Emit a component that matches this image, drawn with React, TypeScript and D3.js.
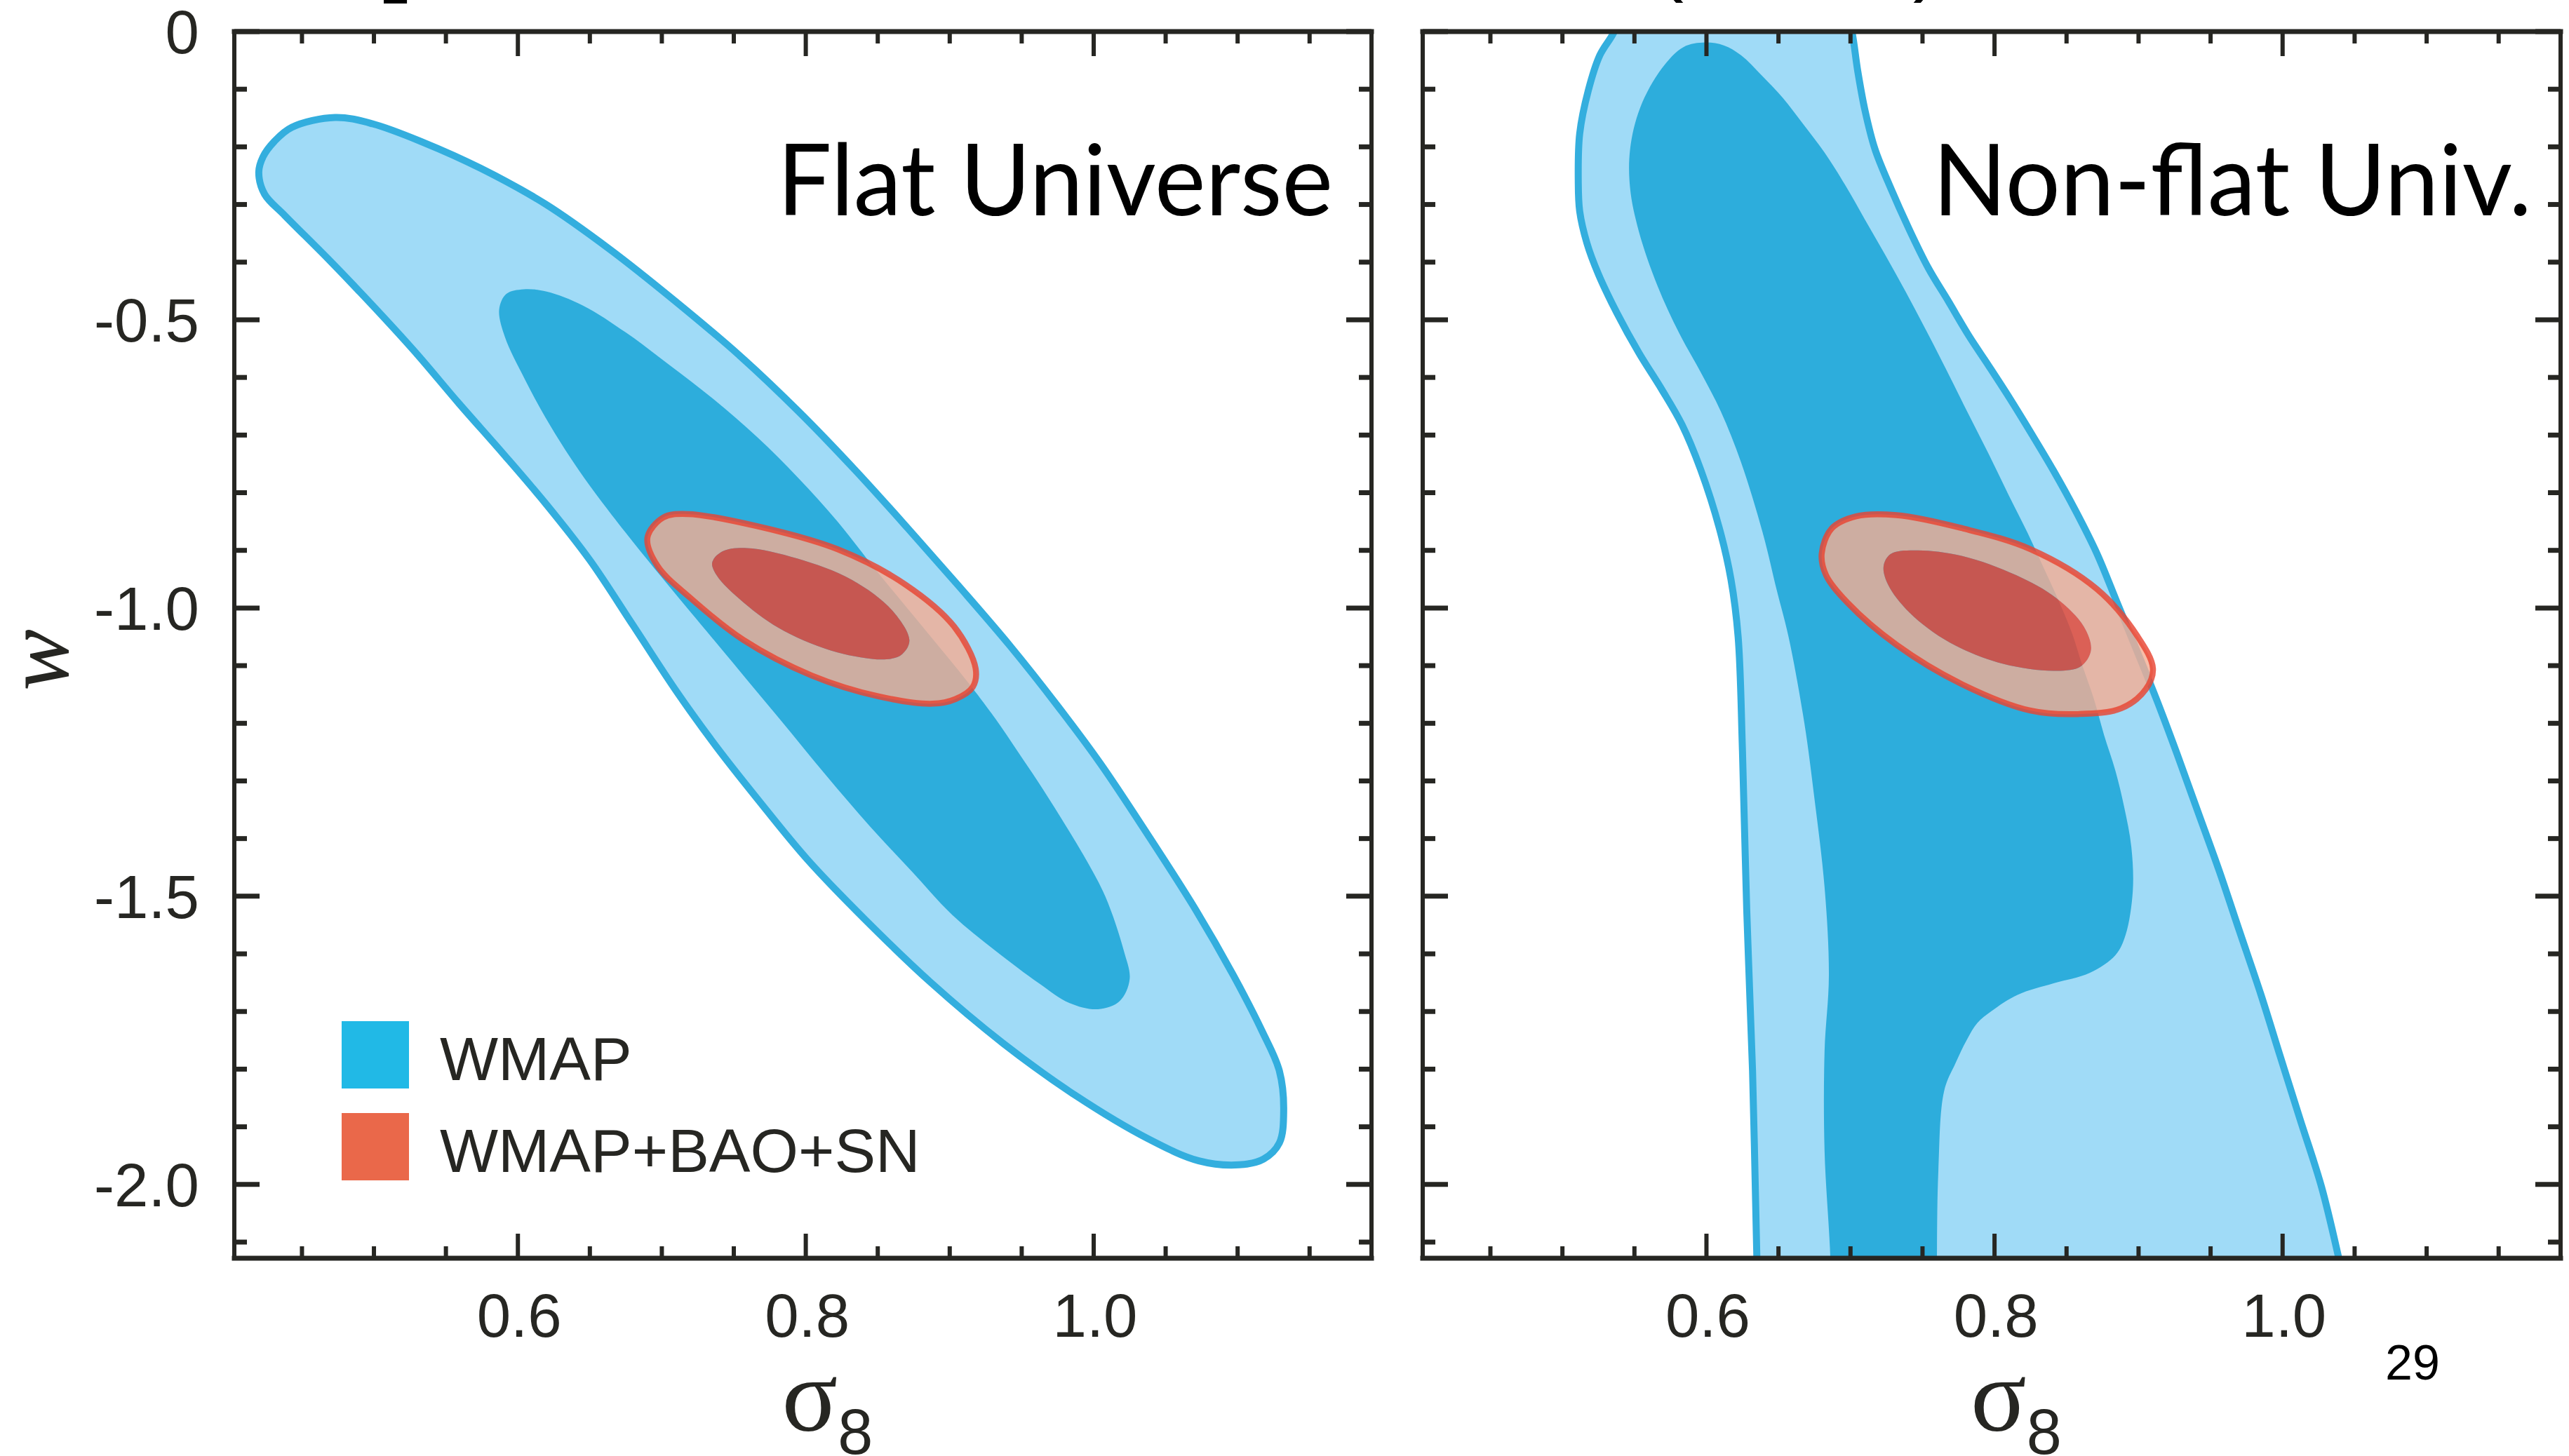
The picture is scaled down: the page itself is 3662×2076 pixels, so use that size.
import React from "react";
import * as d3 from "d3";

type Pt = [number, number];

// ---------- axes ----------
const xDomain = [0.403, 1.193];
const yDomain = [-2.128, 0];
const xMajorTicks = [0.6, 0.8, 1.0];
const xTickLabels = ["0.6", "0.8", "1.0"];
const xMinorTicks = [0.45, 0.5, 0.55, 0.65, 0.7, 0.75, 0.85, 0.9, 0.95, 1.05, 1.1, 1.15];
const yMajorTicks = [0, -0.5, -1.0, -1.5, -2.0];
const yTickLabels = ["0", "-0.5", "-1.0", "-1.5", "-2.0"];
const yMinorTicks = [-0.1, -0.2, -0.3, -0.4, -0.6, -0.7, -0.8, -0.9, -1.1, -1.2, -1.3, -1.4, -1.6, -1.7, -1.8, -1.9, -2.1];

const panelTitles = ["Flat Universe", "Non-flat Univ."];
const legendLabels = ["WMAP", "WMAP+BAO+SN"];
const legendColors = ["#21B9E6", "#EA684A"];
const pageNumber = "29";

// ---------- contours (sigma8, w) ----------
const flatWmap95: Pt[] = [
  [0.473, -0.149], [0.499, -0.160], [0.534, -0.192], [0.574, -0.237], [0.619, -0.299], [0.664, -0.378],
  [0.709, -0.467], [0.754, -0.562], [0.795, -0.659], [0.834, -0.760], [0.871, -0.862], [0.907, -0.964],
  [0.942, -1.066], [0.975, -1.170], [1.005, -1.271], [1.037, -1.391], [1.071, -1.524], [1.097, -1.637],
  [1.117, -1.734], [1.129, -1.803], [1.132, -1.872], [1.129, -1.928], [1.118, -1.956], [1.101, -1.966],
  [1.073, -1.959], [1.038, -1.921], [0.987, -1.845], [0.937, -1.755], [0.887, -1.650], [0.841, -1.540],
  [0.801, -1.436], [0.767, -1.333], [0.738, -1.241], [0.710, -1.144], [0.680, -1.030], [0.650, -0.917],
  [0.620, -0.821], [0.590, -0.733], [0.559, -0.645], [0.529, -0.557], [0.499, -0.475], [0.468, -0.394],
  [0.438, -0.319], [0.424, -0.282], [0.420, -0.244], [0.423, -0.217], [0.431, -0.190], [0.443, -0.166],
];
const flatWmap68: Pt[] = [
  [0.604, -0.447], [0.620, -0.451], [0.645, -0.475], [0.675, -0.522], [0.705, -0.578], [0.736, -0.638],
  [0.766, -0.703], [0.795, -0.775], [0.822, -0.850], [0.848, -0.932], [0.881, -1.032], [0.913, -1.130],
  [0.932, -1.193], [0.947, -1.248], [0.961, -1.300], [0.977, -1.363], [0.993, -1.429], [1.008, -1.500],
  [1.021, -1.595], [1.025, -1.644], [1.018, -1.682], [1.003, -1.696], [0.983, -1.685], [0.962, -1.651],
  [0.932, -1.595], [0.902, -1.533], [0.874, -1.458], [0.845, -1.380], [0.814, -1.290], [0.782, -1.193],
  [0.754, -1.109], [0.731, -1.040], [0.701, -0.950], [0.677, -0.876], [0.662, -0.828], [0.646, -0.774],
  [0.633, -0.726], [0.619, -0.669], [0.605, -0.604], [0.591, -0.530], [0.587, -0.482], [0.592, -0.455],
];
const flatJoint95: Pt[] = [
  [0.690, -0.878], [0.701, -0.843], [0.718, -0.837], [0.766, -0.858], [0.822, -0.898], [0.869, -0.959],
  [0.903, -1.032], [0.918, -1.105], [0.916, -1.137], [0.904, -1.158], [0.888, -1.166], [0.850, -1.153],
  [0.804, -1.117], [0.757, -1.056], [0.720, -0.983], [0.697, -0.927],
];
const flatJoint68: Pt[] = [
  [0.735, -0.921], [0.742, -0.902], [0.759, -0.896], [0.794, -0.914], [0.832, -0.951], [0.860, -1.004],
  [0.872, -1.056], [0.867, -1.080], [0.856, -1.089], [0.822, -1.077], [0.785, -1.040], [0.757, -0.991],
  [0.738, -0.943],
];
const nonflatWmap95: Pt[] = [
  [0.545, 0.06], [0.620, 0.10], [0.695, 0.06], [0.701, 0.0], [0.705, -0.068], [0.710, -0.136],
  [0.717, -0.204], [0.728, -0.272], [0.740, -0.339], [0.754, -0.410], [0.768, -0.468], [0.782, -0.527],
  [0.796, -0.580], [0.811, -0.638], [0.826, -0.699], [0.841, -0.762], [0.856, -0.830], [0.871, -0.905],
  [0.885, -0.990], [0.899, -1.075], [0.913, -1.162], [0.927, -1.255], [0.941, -1.352], [0.956, -1.456],
  [0.970, -1.560], [0.985, -1.671], [0.998, -1.775], [1.012, -1.886], [1.027, -2.004], [1.039, -2.128],
  [1.045, -2.20], [0.850, -2.25], [0.636, -2.20], [0.635, -2.128], [0.632, -1.803], [0.628, -1.526],
  [0.625, -1.248], [0.622, -1.050], [0.617, -0.950], [0.609, -0.862], [0.596, -0.760], [0.583, -0.682],
  [0.569, -0.621], [0.553, -0.557], [0.538, -0.489], [0.525, -0.421], [0.517, -0.367], [0.512, -0.312],
  [0.511, -0.258], [0.512, -0.177], [0.518, -0.102], [0.526, -0.041], [0.536, 0.0],
];
const nonflatWmap68: Pt[] = [
  [0.599, -0.019], [0.612, -0.024], [0.624, -0.041], [0.638, -0.075], [0.653, -0.115], [0.667, -0.160],
  [0.682, -0.210], [0.696, -0.265], [0.710, -0.326], [0.724, -0.387], [0.738, -0.450], [0.752, -0.516],
  [0.766, -0.584], [0.781, -0.659], [0.796, -0.733], [0.810, -0.805], [0.823, -0.870], [0.835, -0.935],
  [0.845, -0.990], [0.854, -1.045], [0.861, -1.100], [0.869, -1.158], [0.876, -1.220], [0.884, -1.283],
  [0.890, -1.345], [0.895, -1.415], [0.896, -1.491], [0.891, -1.567], [0.884, -1.602], [0.866, -1.633],
  [0.841, -1.651], [0.816, -1.671], [0.798, -1.699], [0.788, -1.720], [0.781, -1.748], [0.773, -1.789],
  [0.765, -1.838], [0.761, -1.977], [0.760, -2.128], [0.760, -2.22], [0.686, -2.22], [0.686, -2.128],
  [0.682, -1.942], [0.682, -1.769], [0.685, -1.637], [0.682, -1.484], [0.675, -1.331], [0.668, -1.200],
  [0.657, -1.050], [0.649, -0.971], [0.639, -0.869], [0.624, -0.747], [0.610, -0.659], [0.596, -0.591],
  [0.581, -0.523], [0.566, -0.441], [0.553, -0.346], [0.547, -0.272], [0.547, -0.204], [0.554, -0.132],
  [0.569, -0.064], [0.584, -0.027],
];
const nonflatJoint95: Pt[] = [
  [0.680, -0.906], [0.687, -0.862], [0.704, -0.841], [0.732, -0.839], [0.778, -0.862], [0.825, -0.898],
  [0.871, -0.967], [0.899, -1.048], [0.910, -1.105], [0.905, -1.141], [0.888, -1.174], [0.858, -1.184],
  [0.825, -1.178], [0.778, -1.133], [0.732, -1.064], [0.698, -0.991], [0.683, -0.943],
];
const nonflatJoint68: Pt[] = [
  [0.723, -0.927], [0.728, -0.906], [0.747, -0.900], [0.778, -0.910], [0.815, -0.943], [0.843, -0.983],
  [0.862, -1.032], [0.867, -1.073], [0.860, -1.101], [0.843, -1.109], [0.806, -1.097], [0.769, -1.060],
  [0.741, -1.008], [0.726, -0.959],
];

// ---------- layout ----------
const W = 3662;
const H = 2076;
const TOP = 45;
const BOTTOM = 1794;
const INK = "#262622";
const SANS = "'Liberation Sans', Arial, Helvetica, sans-serif";
const SERIF = "'Liberation Serif', 'Times New Roman', serif";

const panels = [
  { id: "flat", x0: 334, x1: 1955, title: panelTitles[0], titleX: 1108, titleLen: 792,
    wmap95: flatWmap95, wmap68: flatWmap68, joint95: flatJoint95, joint68: flatJoint68 },
  { id: "nonflat", x0: 2028, x1: 3650, title: panelTitles[1], titleX: 2755, titleLen: 854,
    wmap95: nonflatWmap95, wmap68: nonflatWmap68, joint95: nonflatJoint95, joint68: nonflatJoint68 },
];

const yScale = d3.scaleLinear().domain(yDomain).range([BOTTOM, TOP]);

function Panel({ p, index }: { p: (typeof panels)[number]; index: number }) {
  const xScale = d3.scaleLinear().domain(xDomain).range([p.x0, p.x1]);
  const line = d3
    .line<Pt>()
    .x((d) => xScale(d[0]))
    .y((d) => yScale(d[1]))
    .curve(d3.curveCatmullRomClosed.alpha(0.5));
  const clipId = `clip-${p.id}`;
  const outerBlue = line(p.wmap95) || "";
  const innerBlue = line(p.wmap68) || "";
  const outerRed = line(p.joint95) || "";
  const innerRed = line(p.joint68) || "";
  const minorLen = 17;
  const majorLen = 35;

  return (
    <g>
      <defs>
        <clipPath id={clipId}>
          <rect x={p.x0} y={TOP} width={p.x1 - p.x0} height={BOTTOM - TOP} />
        </clipPath>
      </defs>
      <g clipPath={`url(#${clipId})`}>
        <path d={outerBlue} fill="#A0DBF7" />
        <path d={innerBlue} fill="#2DADDC" />
        <path d={outerBlue} fill="none" stroke="#33AEDE" strokeWidth={10} strokeLinejoin="round" />
        <path d={outerRed + innerRed} fill="#F5AC92" fillOpacity={0.8} fillRule="evenodd" />
        <path d={innerRed} fill="#E84432" fillOpacity={0.82} />
        <path d={outerRed} fill="none" stroke="#E84432" strokeOpacity={0.82} strokeWidth={8.5} />
      </g>

      {/* ticks */}
      {[...xMinorTicks.map((t) => [t, minorLen]), ...xMajorTicks.map((t) => [t, majorLen])].map(([t, len], i) => (
        <g key={`xt${i}`} stroke={INK} strokeWidth={6}>
          <line x1={xScale(t)} x2={xScale(t)} y1={TOP} y2={TOP + len} />
          <line x1={xScale(t)} x2={xScale(t)} y1={BOTTOM} y2={BOTTOM - len} />
        </g>
      ))}
      {[...yMinorTicks.map((t) => [t, minorLen + 1]), ...yMajorTicks.map((t) => [t, majorLen + 1])].map(([t, len], i) => (
        <g key={`yt${i}`} stroke={INK} strokeWidth={7}>
          <line x1={p.x0} x2={p.x0 + len} y1={yScale(t)} y2={yScale(t)} />
          <line x1={p.x1} x2={p.x1 - len} y1={yScale(t)} y2={yScale(t)} />
        </g>
      ))}

      {/* frame */}
      <g stroke={INK} strokeLinecap="square">
        <line x1={p.x0} x2={p.x1} y1={TOP} y2={TOP} strokeWidth={7} />
        <line x1={p.x0} x2={p.x1} y1={BOTTOM} y2={BOTTOM} strokeWidth={7} />
        <line x1={p.x0} x2={p.x0} y1={TOP} y2={BOTTOM} strokeWidth={6} />
        <line x1={p.x1} x2={p.x1} y1={TOP} y2={BOTTOM} strokeWidth={6} />
      </g>

      {/* x tick labels */}
      {xMajorTicks.map((t, i) => (
        <text key={`xl${i}`} x={xScale(t) + 2} y={1906} fontFamily={SANS} fontSize={87} fill={INK} textAnchor="middle">
          {xTickLabels[i]}
        </text>
      ))}

      {/* y tick labels, left panel only */}
      {index === 0 &&
        yMajorTicks.map((t, i) => (
          <text key={`yl${i}`} x={284} y={yScale(t) + 31} fontFamily={SANS} fontSize={87} fill={INK} textAnchor="end">
            {yTickLabels[i]}
          </text>
        ))}

      {/* x axis title */}
      <text x={xScale(0.815)} y={2040} textAnchor="middle" fill={INK}>
        <tspan fontFamily={SERIF} fontSize={148}>σ</tspan>
        <tspan fontFamily={SANS} fontSize={90} dy={33}>8</tspan>
      </text>

      {/* panel title */}
      <text x={p.titleX} y={307} fontFamily="Lato, 'Open Sans', sans-serif" fontSize={141} fill="#000"
        textLength={p.titleLen} lengthAdjust="spacingAndGlyphs">
        {p.title}
      </text>
    </g>
  );
}

export default function App() {
  const legendY = [1456, 1587];
  return (
    <svg width={W} height={H} viewBox={`0 0 ${W} ${H}`}
      style={{ position: "absolute", left: 0, top: 0, background: "#fff" }}>
      <rect x={0} y={0} width={W} height={H} fill="#fff" />

      {/* clipped remnants of a heading above the figure */}
      <text x={540} y={-21} fontFamily={SANS} fontSize={125} fontWeight="bold" fill="#000">[</text>
      <text x={2360} y={-21} fontFamily={SANS} fontSize={120} fill="#000">(</text>
      <text x={2727} y={-21} fontFamily={SANS} fontSize={120} fill="#000">)</text>

      {panels.map((p, i) => (
        <Panel key={p.id} p={p} index={i} />
      ))}

      {/* y axis title */}
      <text transform="translate(97,941) rotate(-90)" textAnchor="middle" fontFamily={SERIF}
        fontStyle="italic" fontSize={132} fill={INK}>
        w
      </text>

      {/* legend */}
      {legendLabels.map((lab, i) => (
        <g key={lab}>
          <rect x={487} y={legendY[i]} width={96} height={96} fill={legendColors[i]} />
          <text x={627} y={legendY[i] + 84} fontFamily={SANS} fontSize={88} fill={INK}>
            {lab}
          </text>
        </g>
      ))}

      {/* page number */}
      <text x={3400} y={1967} fontFamily={SANS} fontSize={70} fill="#000">
        {pageNumber}
      </text>
    </svg>
  );
}
